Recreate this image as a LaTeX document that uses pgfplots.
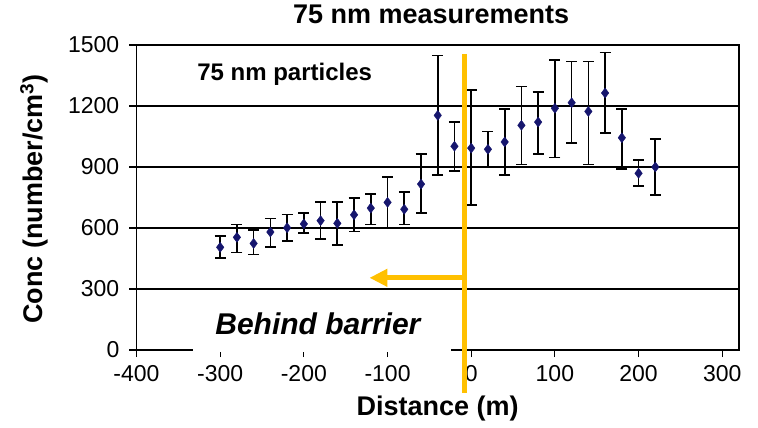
\documentclass[border=0pt]{standalone}
\usepackage{fontspec}
\setmainfont{Liberation Sans}
\usepackage{pgfplots}
\pgfplotsset{compat=1.18}
\usetikzlibrary{arrows.meta}
\definecolor{navy}{RGB}{22,22,110}
\definecolor{gold}{RGB}{255,192,0}
\begin{document}
\begin{tikzpicture}
\begin{axis}[
  scale only axis,
  width=602.5pt, height=305pt,
  xmin=-400, xmax=320, ymin=0, ymax=1500,
  xtick={-400,-300,-200,-100,0,100,200,300},
  xticklabels={-400,-300,-200,-100,0,100,200,300},
  ytick={0,300,600,900,1200,1500},
  yticklabels={0,300,600,900,1200,1500},
  tick align=outside,
  major tick length=7pt,
  xtick pos=bottom, ytick pos=left,
  tick style={black, line width=1.2pt},
  axis line style={black, line width=1.3pt},
  ymajorgrids,
  major grid style={black, line width=1.2pt},
  ticklabel style={font=\fontsize{23}{26}\selectfont},
  yticklabel style={inner sep=0pt, xshift=-10pt},
  xticklabel style={inner sep=0pt, yshift=-8pt},
  title={75 nm measurements},
  title style={font=\bfseries\fontsize{27}{30}\selectfont, at={(axis description cs:0.489,1)}, anchor=base, yshift=15pt},
  xlabel={Distance (m)},
  xlabel style={font=\bfseries\fontsize{27}{30}\selectfont, at={(axis description cs:0.5,0)}, anchor=base, yshift=-65pt},
  ylabel={Conc (number/cm\textsuperscript{3})},
  ylabel style={font=\bfseries\fontsize{27}{30}\selectfont, at={(axis description cs:-0.170,0.495)}, anchor=center, rotate=0},
  clip=false,
]
\addplot[only marks, mark=diamond*, mark size=5pt, color=navy,
  error bars/.cd, y dir=both, y explicit,
  error bar style={black, line width=1.7pt},
  error mark options={rotate=90, mark size=5.5pt, line width=1.6pt, black}]
  table[x=x, y=y, y error plus=ep, y error minus=em] {
x y ep em
-300 505 57 54
-280 554 64 74
-260 524 65 54
-240 580 66 74
-220 601 66 65
-200 620 55 46
-180 636 93 90
-160 623 106 107
-140 665 84 83
-120 698 69 80
-100 726 126 125
-80 692 85 74
-60 816 148 142
-40 1154 295 293
-20 1002 118 122
0 993 286 280
20 987 88 86
40 1023 162 162
60 1105 190 192
80 1121 147 157
100 1189 237 243
120 1216 202 198
140 1173 245 260
160 1264 200 198
180 1044 141 154
200 869 65 62
220 900 138 139
};
\node[anchor=base west, inner sep=0pt, font=\bfseries\fontsize{24}{27}\selectfont] at (axis cs:-327.6,1323) {75 nm particles};
\coordinate (boxA) at (axis cs:-332,-8);
\coordinate (boxB) at (axis cs:-24,240);
\coordinate (txt) at (axis cs:-306,74);
\coordinate (vt) at (axis cs:-7.5,1456);
\coordinate (vb) at (axis cs:-7.5,-211);
\coordinate (ar) at (axis cs:-7.5,355);
\coordinate (at) at (axis cs:-121.6,355);
\end{axis}
\fill[white] (boxA) rectangle (boxB);
\node[anchor=base west, inner sep=0pt, font=\bfseries\itshape\fontsize{30}{33}\selectfont] at (txt) {Behind barrier};
\draw[gold, line width=5pt, -{Triangle[length=18pt,width=17pt]}] (ar) -- (at);
\draw[gold, line width=5pt] (vt) -- (vb);
\pgfresetboundingbox
\path[use as bounding box] ([xshift=-136.5pt,yshift=-78pt]current axis.south west) rectangle ++(758pt,428pt);
\end{tikzpicture}
\end{document}
